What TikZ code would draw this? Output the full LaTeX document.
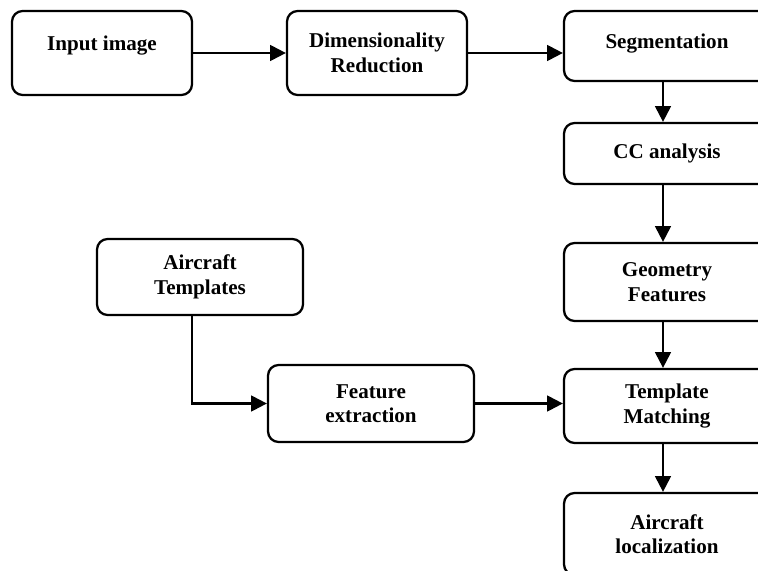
\documentclass[tikz,border=0pt]{standalone}
\usepackage{fontspec}
\setmainfont{Liberation Serif}
\usetikzlibrary{arrows.meta}
\begin{document}
\begin{tikzpicture}[x=0.02cm, y=-0.02cm,
    box/.style={draw, line width=1.3pt, rounded corners=6pt, align=center,
        font=\bfseries\fontsize{12}{14}\selectfont},
    arr/.style={line width=1.3pt, -{Triangle[length=9pt, width=9pt]}}]
    \useasboundingbox (0,0) rectangle (758,571);
    \clip (0,0) rectangle (758,571);
    \node at (102,53) [box, minimum width=3.6cm, minimum height=1.68cm] (inp) {Input image\\[-3pt] \mbox{}};
    \node at (377,53) [box, minimum width=3.6cm, minimum height=1.68cm] (dim) {Dimensionality\\Reduction};
    \node at (667,46) [box, minimum width=4.12cm, minimum height=1.4cm] (seg) {Segmentation\\[-8pt] \mbox{}};
    \node at (667,153.5) [box, minimum width=4.12cm, minimum height=1.22cm] (cc) {CC analysis};
    \node at (667,282) [box, minimum width=4.12cm, minimum height=1.56cm] (geo) {Geometry\\Features};
    \node at (667,406) [box, minimum width=4.12cm, minimum height=1.48cm] (tm) {Template\\Matching};
    \node at (667,534) [box, minimum width=4.12cm, minimum height=1.64cm] (loc) {Aircraft\\localization};
    \node at (200,277) [box, minimum width=4.12cm, minimum height=1.52cm] (at) {Aircraft\\Templates};
    \node at (371,403.5) [box, minimum width=4.12cm, minimum height=1.54cm] (fe) {Feature\\extraction};
    \draw[arr] (inp.east) -- (dim.west);
    \draw[arr] (dim.east) -- (dim.east -| seg.west);
    \draw[arr] ([xshift=-0.08cm]seg.south) -- ([xshift=-0.08cm]cc.north);
    \draw[arr] ([xshift=-0.08cm]cc.south) -- ([xshift=-0.08cm]geo.north);
    \draw[arr] ([xshift=-0.08cm]geo.south) -- ([xshift=-0.08cm]tm.north);
    \draw[arr] ([xshift=-0.08cm]tm.south) -- ([xshift=-0.08cm]loc.north);
    \draw[arr] ([xshift=-0.16cm]at.south) |- (fe.west);
    \draw[arr] (fe.east) -- (fe.east -| tm.west);
\end{tikzpicture}
\end{document}
